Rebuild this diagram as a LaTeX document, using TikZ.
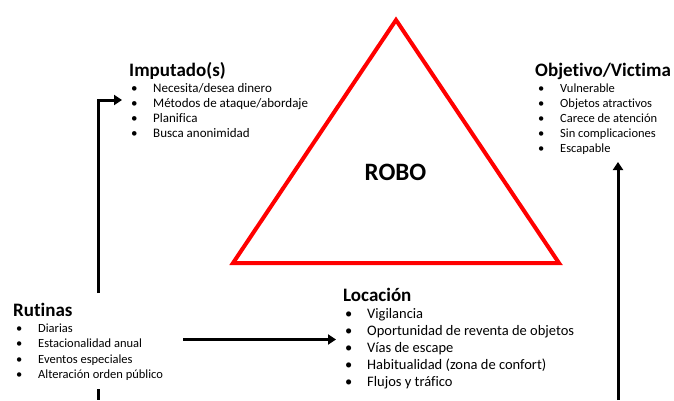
\documentclass[tikz,border=0pt]{standalone}
\usepackage{fontspec}
\setmainfont{Carlito}[Ligatures={NoCommon}]
\usetikzlibrary{arrows.meta}

\newcommand{\puce}{\makebox[22pt][l]{\textbullet}}

\begin{document}
\begin{tikzpicture}[x=1pt,y=-1pt,
    titre/.style={anchor=base west,inner sep=0pt,font=\fontsize{19}{19}\selectfont\bfseries},
    liste/.style={anchor=base west,inner sep=0pt,font=\fontsize{12.5}{12.5}\selectfont},
    grande/.style={anchor=base west,inner sep=0pt,font=\fontsize{14.5}{14.5}\selectfont},
    fleche/.style={line width=3pt,-{Triangle[length=8pt,width=10pt]}}]
    \useasboundingbox (0,0) rectangle (674,400);

    % triangle
    \draw [red,line width=4pt,line join=miter] (396,20) -- (559,263) -- (233,263) -- cycle;
    \node [inner sep=0pt,font=\fontsize{25}{25}\selectfont\bfseries] (robo) at (395.5,172.5) {ROBO};

    % imputado
    \node [titre] (imp) at (129,76) {Imputado(s)};
    \node [liste,font=\fontsize{13}{13}\selectfont] (imp1) at (131,92) {\puce Necesita/desea dinero};
    \node [liste,font=\fontsize{13}{13}\selectfont] (imp2) at (131,107) {\puce Métodos de ataque/abordaje};
    \node [liste,font=\fontsize{13}{13}\selectfont] (imp3) at (131,122) {\puce Planifica};
    \node [liste,font=\fontsize{13}{13}\selectfont] (imp4) at (131,137) {\puce Busca anonimidad};

    % objetivo
    \node [titre] (obj) at (535,76) {Objetivo/Victima};
    \node [liste] (obj1) at (538,92) {\puce Vulnerable};
    \node [liste] (obj2) at (538,107) {\puce Objetos atractivos};
    \node [liste] (obj3) at (538,122) {\puce Carece de atención};
    \node [liste] (obj4) at (538,137) {\puce Sin complicaciones};
    \node [liste] (obj5) at (538,152) {\puce Escapable};

    % rutinas
    \node [titre] (rut) at (13,316) {Rutinas};
    \node [liste] (rut1) at (16,332) {\puce Diarias};
    \node [liste] (rut2) at (16,347.5) {\puce Estacionalidad anual};
    \node [liste] (rut3) at (16,363) {\puce Eventos especiales};
    \node [liste] (rut4) at (16,378.5) {\puce Alteración orden público};

    % locacion
    \node [titre] (loc) at (343,301) {Locación};
    \node [grande] (loc1) at (345,318) {\puce Vigilancia};
    \node [grande] (loc2) at (345,335) {\puce Oportunidad de reventa de objetos};
    \node [grande] (loc3) at (345,352) {\puce Vías de escape};
    \node [grande] (loc4) at (345,369) {\puce Habitualidad (zona de confort)};
    \node [grande] (loc5) at (345,386) {\puce Flujos y tráfico};

    % fleches
    \coordinate (rutH) at (98.5,293);
    \coordinate (rutB) at (98.5,389);
    \coordinate (impG) at (122,100);
    \coordinate (rutD) at (183,339.5);
    \coordinate (locG) at (336,339.5);
    \coordinate (objB) at (618,400);
    \coordinate (objH) at (618,162);
    \draw [fleche] (rutH) |- (impG);
    \draw [line width=3pt] (rutB) -- (98.5,400);
    \draw [fleche] (rutD) -- (locG);
    \draw [fleche] (objB) -- (objH);
\end{tikzpicture}
\end{document}
